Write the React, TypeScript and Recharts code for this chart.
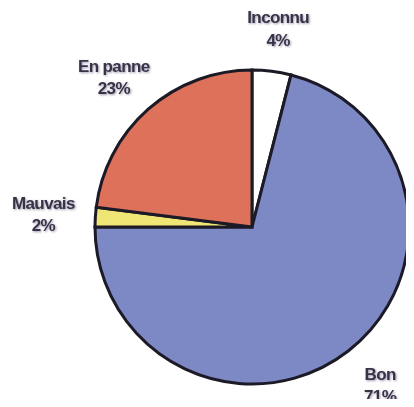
import React from 'react';
import { PieChart, Pie, Cell } from 'recharts';

const categories = ['Inconnu', 'Bon', 'Mauvais', 'En panne'];
const shares = [4, 71, 2, 23];
const colors = ['#ffffff', '#7d89c4', '#efe676', '#de7159'];

const data = categories.map((name, i) => ({ name, value: shares[i] }));

const RADIAN = Math.PI / 180;

// two-line label (name + percent) placed outside the slice along its mid angle
const renderLabel = (props: any) => {
  const { cx, cy, midAngle, outerRadius, name, value } = props;
  const rx = outerRadius + 52;
  const ry = outerRadius + 43;
  const x = cx + rx * Math.cos(-midAngle * RADIAN);
  const y = cy + ry * Math.sin(-midAngle * RADIAN);
  return (
    <text
      x={x}
      y={y}
      textAnchor="middle"
      fill="#3a3348"
      fontFamily="'Liberation Sans', Arial, sans-serif"
      fontWeight={700}
      fontSize={17}
      letterSpacing={-0.6}
      style={{ filter: 'drop-shadow(1px 1px 1px rgba(80,70,110,0.55))' }}
    >
      <tspan x={x} dy="-0.3em">{name}</tspan>
      <tspan x={x} dy="1.3em">{value}%</tspan>
    </text>
  );
};

export default function App() {
  return (
    <div style={{ position: 'relative', width: 414, height: 407, margin: -8, background: '#ffffff', overflow: 'hidden' }}>
      {/* dark rule at the top of the scanned page */}
      <div style={{ position: 'absolute', left: 85, top: 0, width: 329, height: 5, background: '#4b2a36' }} />
      <PieChart width={414} height={407} margin={{ top: 0, right: 0, bottom: 0, left: 0 }}>
        <Pie
          data={data}
          dataKey="value"
          nameKey="name"
          cx={252}
          cy={227}
          outerRadius={157}
          startAngle={90}
          endAngle={-270}
          stroke="#1c1a26"
          strokeWidth={3}
          label={renderLabel}
          labelLine={false}
          isAnimationActive={false}
        >
          {data.map((entry, i) => (
            <Cell key={entry.name} fill={colors[i]} />
          ))}
        </Pie>
      </PieChart>
    </div>
  );
}
